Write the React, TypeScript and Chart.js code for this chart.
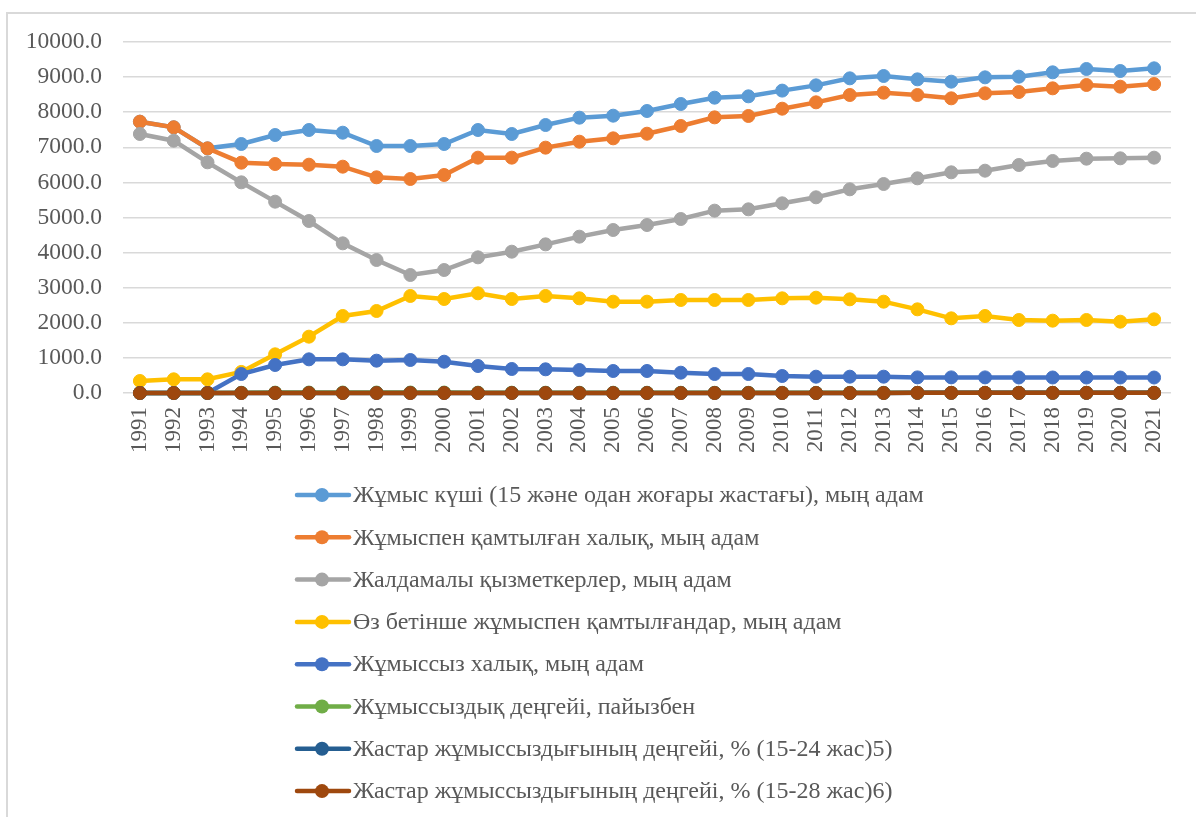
import { useEffect, useRef } from "react";
import { Chart, registerables } from "chart.js";

Chart.register(...registerables);

const years = [
  "1991", "1992", "1993", "1994", "1995", "1996", "1997", "1998", "1999", "2000",
  "2001", "2002", "2003", "2004", "2005", "2006", "2007", "2008", "2009", "2010",
  "2011", "2012", "2013", "2014", "2015", "2016", "2017", "2018", "2019", "2020", "2021",
];

const labourForce = [
  7730, 7570, 6970, 7094, 7350, 7493, 7416, 7037, 7037, 7094,
  7493, 7379, 7635, 7844, 7901, 8034, 8234, 8414, 8452, 8615,
  8765, 8965, 9031, 8936, 8870, 8993, 9012, 9136, 9231, 9174, 9250,
];

const employed = [
  7730, 7570, 6970, 6562, 6524, 6505, 6448, 6145, 6097, 6211,
  6705, 6705, 6990, 7160, 7255, 7388, 7607, 7853, 7892, 8100,
  8281, 8490, 8556, 8490, 8395, 8537, 8575, 8680, 8775, 8727, 8803,
];

const hiredWorkers = [
  7379, 7188, 6572, 6002, 5451, 4900, 4264, 3789, 3362, 3504,
  3865, 4026, 4235, 4454, 4644, 4786, 4957, 5195, 5233, 5404,
  5575, 5803, 5954, 6116, 6287, 6334, 6496, 6610, 6676, 6686, 6705,
];

const selfEmployed = [
  342, 390, 390, 600, 1102, 1605, 2194, 2336, 2764, 2678,
  2840, 2678, 2764, 2697, 2602, 2602, 2650, 2650, 2650, 2697,
  2716, 2669, 2602, 2384, 2127, 2194, 2080, 2061, 2080, 2032, 2099,
];

const unemployed = [
  0, 0, 0, 541, 798, 959, 959, 921, 940, 892,
  769, 684, 675, 655, 627, 627, 579, 541, 541, 484,
  465, 465, 465, 445, 445, 445, 442, 442, 441, 441, 441,
];

const unemploymentRate = [
  0, 0, 0, 7.5, 11.0, 13.0, 13.0, 13.1, 13.5, 12.8,
  10.4, 9.3, 8.8, 8.4, 8.1, 7.8, 7.3, 6.6, 6.6, 5.8,
  5.4, 5.3, 5.2, 5.0, 5.0, 5.0, 4.9, 4.9, 4.8, 4.9, 4.9,
];

const youthRate1524 = [
  0, 0, 0, 0, 0, 0, 0, 0, 0, 0,
  0, 0, 0, 0, 0, 0, 0, 0, 0, 0,
  0, 0, 0, 3.9, 3.9, 3.8, 3.7, 3.7, 3.8, 3.9, 3.8,
];

const youthRate1528 = [
  0, 0, 0, 0, 0, 0, 0, 0, 0, 0,
  0, 0, 0, 0, 0, 0, 0, 0, 0, 0,
  0, 0, 0, 4.1, 4.0, 3.9, 3.8, 3.7, 3.8, 4.0, 3.9,
];

const seriesLabels = [
  "Жұмыс күші (15 және одан жоғары жастағы), мың адам",
  "Жұмыспен қамтылған халық, мың адам",
  "Жалдамалы қызметкерлер, мың адам",
  "Өз бетінше жұмыспен қамтылғандар, мың адам",
  "Жұмыссыз халық, мың адам",
  "Жұмыссыздық деңгейі, пайызбен",
  "Жастар жұмыссыздығының деңгейі, % (15-24 жас)5)",
  "Жастар жұмыссыздығының деңгейі, % (15-28 жас)6)",
];

const seriesColors = [
  "#5B9BD5", "#ED7D31", "#A5A5A5", "#FFC000",
  "#4472C4", "#70AD47", "#255E91", "#9E480E",
];

const seriesValues = [
  labourForce, employed, hiredWorkers, selfEmployed,
  unemployed, unemploymentRate, youthRate1524, youthRate1528,
];

const yTicks = [0, 1000, 2000, 3000, 4000, 5000, 6000, 7000, 8000, 9000, 10000];

const FONT = '"Liberation Serif", "Times New Roman", serif';
const TEXT_COLOR = "#595959";

export default function App() {
  const ref = useRef<HTMLCanvasElement>(null);

  useEffect(() => {
    if (!ref.current) return;

    const verticalLegend = {
      id: "verticalLegend",
      afterDraw(chart: any) {
        const ctx = chart.ctx;
        ctx.save();
        chart.data.datasets.forEach((ds: any, i: number) => {
          const y = 495 + i * 42.3;
          ctx.strokeStyle = ds.borderColor;
          ctx.lineWidth = 4.5;
          ctx.lineCap = "round";
          ctx.beginPath();
          ctx.moveTo(297, y);
          ctx.lineTo(349, y);
          ctx.stroke();
          ctx.fillStyle = ds.borderColor;
          ctx.beginPath();
          ctx.arc(322, y, 7, 0, Math.PI * 2);
          ctx.fill();
          ctx.fillStyle = TEXT_COLOR;
          ctx.font = `24px ${FONT}`;
          ctx.textBaseline = "middle";
          ctx.textAlign = "left";
          ctx.fillText(ds.label, 353, y + 1);
        });
        ctx.restore();
      },
    };

    const chart = new Chart(ref.current, {
      type: "line",
      data: {
        labels: years,
        datasets: seriesValues.map((vals, i) => ({
          label: seriesLabels[i],
          data: vals,
          borderColor: seriesColors[i],
          backgroundColor: seriesColors[i],
          pointBackgroundColor: seriesColors[i],
          pointBorderColor: seriesColors[i],
          borderWidth: 4.5,
          pointRadius: 6.5,
          pointBorderWidth: 1,
          pointHoverRadius: 6.5,
          tension: 0,
          fill: false,
          clip: false,
          order: seriesValues.length - i,
        })),
      },
      options: {
        responsive: false,
        animation: false,
        events: [],
        layout: { padding: { top: 42, right: 20, bottom: 0, left: 0 } },
        plugins: {
          legend: { display: false },
          tooltip: { enabled: false },
        },
        scales: {
          x: {
            offset: true,
            grid: { display: false, drawTicks: false },
            border: { display: false },
            ticks: {
              color: TEXT_COLOR,
              font: { family: FONT, size: 23 },
              minRotation: 90,
              maxRotation: 90,
              autoSkip: false,
              padding: 14,
            },
            afterFit(scale: any) {
              scale.height = 424;
            },
          },
          y: {
            min: 0,
            max: 10000,
            afterBuildTicks(scale: any) {
              scale.ticks = yTicks.map((v) => ({ value: v }));
            },
            grid: { color: "#d9d9d9", lineWidth: 1.5, drawTicks: false },
            border: { display: false },
            ticks: {
              color: TEXT_COLOR,
              font: { family: FONT, size: 23.5 },
              padding: 21,
              callback: (v: any) => Number(v).toFixed(1),
            },
            afterFit(scale: any) {
              scale.width = 123;
            },
          },
        },
      },
      plugins: [verticalLegend],
    });

    return () => chart.destroy();
  }, []);

  return (
    <div
      style={{
        position: "fixed",
        left: 0,
        top: 0,
        width: 1196,
        height: 817,
        background: "#ffffff",
        overflow: "hidden",
      }}
    >
      <div
        style={{
          position: "absolute",
          left: 6,
          top: 12,
          width: 1300,
          height: 900,
          border: "2px solid #d9d9d9",
        }}
      />
      <canvas
        ref={ref}
        width={1196}
        height={817}
        style={{ position: "absolute", left: 0, top: 0, width: 1196, height: 817 }}
      />
    </div>
  );
}
